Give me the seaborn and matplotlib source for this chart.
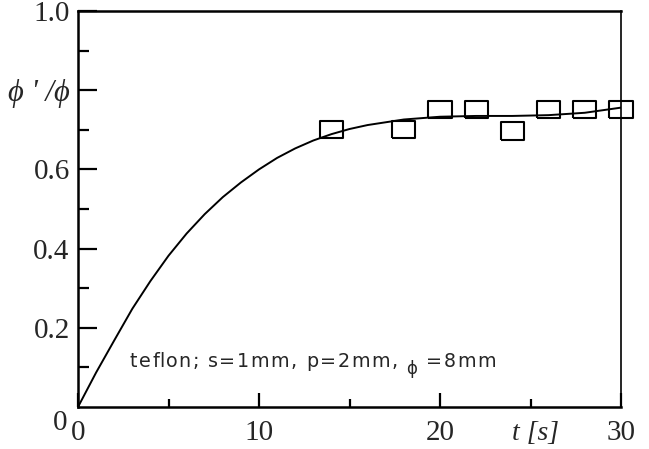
import matplotlib
matplotlib.use("Agg")
import matplotlib.pyplot as plt
import seaborn as sns
import pandas as pd
from matplotlib.ticker import FixedLocator, FixedFormatter
from matplotlib.transforms import offset_copy

# Measured ratio phi'/phi over time
t_meas = [14, 18, 20, 22, 24, 26, 28, 30]
ratio_meas = [0.70, 0.70, 0.752, 0.752, 0.697, 0.751, 0.751, 0.752]

# Fitted curve
t_fit = [0, 1, 2, 3, 4, 5, 6, 7, 8, 9, 10, 11, 12, 13, 14, 15, 16, 18,
         20, 22, 24, 26, 28, 30]
ratio_fit = [0.0, 0.087, 0.168, 0.248, 0.318, 0.382, 0.438, 0.487, 0.530,
             0.567, 0.600, 0.629, 0.653, 0.673, 0.689, 0.702, 0.712, 0.726,
             0.733, 0.735, 0.735, 0.737, 0.743, 0.756]

x_ticks = [0, 10, 20, 30]
x_tick_labels = ["0", "10", "20", "30"]
y_ticks = [0.2, 0.4, 0.6, 0.8, 1.0]
y_tick_labels = ["0.2", "0.4", "0.6", "ϕ ' /ϕ", "1.0"]

sns.set_style("ticks")
plt.rcParams["font.family"] = ["Liberation Serif", "DejaVu Serif"]

fig = plt.figure(figsize=(6.49, 4.49), dpi=100)
ax = fig.add_axes([78 / 649, 42 / 449, 543 / 649, 396 / 449])

fit_df = pd.DataFrame({"t": t_fit, "r": ratio_fit})
meas_df = pd.DataFrame({"t": t_meas, "r": ratio_meas})

sns.lineplot(data=fit_df, x="t", y="r", ax=ax, color="black", lw=1.4,
             zorder=2)

# open rectangles for the measurements
rect = [(-1.35, -1), (1.35, -1), (1.35, 1), (-1.35, 1), (-1.35, -1)]
sns.scatterplot(data=meas_df, x="t", y="r", ax=ax, marker=rect, s=280,
                facecolors="none", edgecolor="black", linewidth=1.5,
                zorder=3, clip_on=False)

ax.set_xlim(0, 30)
ax.set_ylim(0, 1.0)
ax.set_xlabel("")
ax.set_ylabel("")

for name, s in ax.spines.items():
    s.set_linewidth(1.2 if name == "right" else 1.8)
    s.set_color("black")

ax.xaxis.set_major_locator(FixedLocator(x_ticks))
ax.xaxis.set_major_formatter(FixedFormatter(x_tick_labels))
ax.xaxis.set_minor_locator(FixedLocator([5, 15, 25]))
ax.yaxis.set_major_locator(FixedLocator(y_ticks))
ax.yaxis.set_major_formatter(FixedFormatter(y_tick_labels))
ax.yaxis.set_minor_locator(FixedLocator([0.1, 0.3, 0.5, 0.7, 0.9]))

ax.tick_params(axis="both", which="both", direction="in", color="black",
               width=1.6, labelsize=21, top=False, right=False)
ax.tick_params(axis="x", which="major", length=10, pad=9)
ax.tick_params(axis="x", which="minor", length=6)
ax.tick_params(axis="y", which="major", length=14, pad=6)
ax.tick_params(axis="y", which="minor", length=8)

for lab in ax.get_yticklabels():
    if "ϕ" in lab.get_text():
        lab.set_fontstyle("italic")
        lab.set_fontsize(22)

# axis title sitting in the tick-label row
ax.text(25.3, -0.035, "t [s]", fontsize=20, fontstyle="italic",
        ha="center", va="top", clip_on=False)
# zero of the vertical axis, placed at the lower-left corner
ax.text(-0.6, -0.008, "0", fontsize=21, ha="right", va="top",
        clip_on=False)

# sample description, drawn with wide letter spacing
sans = ["DejaVu Sans"]
fig.canvas.draw()
renderer = fig.canvas.get_renderer()


def text_width(s, fs):
    probe = ax.text(0, 0, s + ".", fontsize=fs, family=sans)
    ref = ax.text(0, 0, ".", fontsize=fs, family=sans)
    w = (probe.get_window_extent(renderer).width
         - ref.get_window_extent(renderer).width)
    probe.remove()
    ref.remove()
    return w


def spaced_text(x0, y0, pieces, tracking):
    offset = 0.0
    for s, fs, dy in pieces:
        for ch in s:
            tr = offset_copy(ax.transData, fig=fig, x=offset, y=dy,
                             units="dots")
            ax.text(x0, y0, ch, fontsize=fs, family=sans, ha="left",
                    va="baseline", transform=tr)
            offset += text_width(ch, fs) + tracking


spaced_text(2.87, 0.101,
            [("teflon; s=1mm, p=2mm, ", 13.8, 0),
             ("ϕ", 12.0, -7),
             (" =8mm", 13.8, 0)],
            tracking=1.5)

fig.savefig("out.png", dpi=100)
